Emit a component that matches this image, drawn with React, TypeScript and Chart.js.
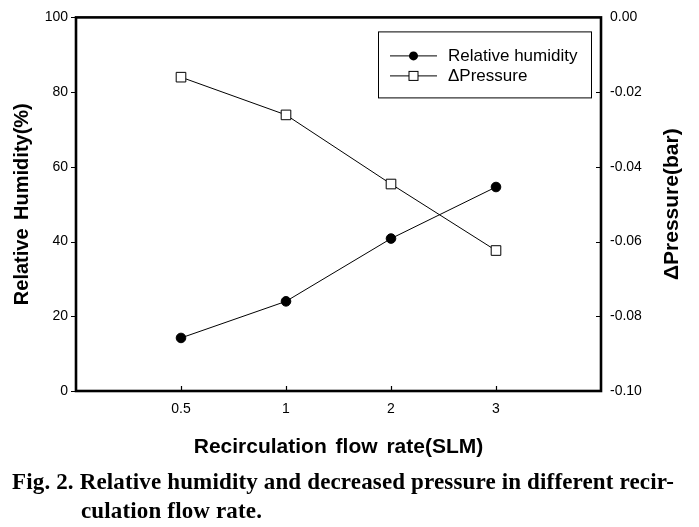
import React, { useEffect, useRef } from "react";
import { Chart, registerables } from "chart.js";

Chart.register(...registerables);

const flowRates = ["0.5", "1", "2", "3"];
const humidity = [14.2, 24.0, 40.8, 54.6];
const deltaPressure = [-0.016, -0.0261, -0.0446, -0.0624];
const humidityTicks = [0, 20, 40, 60, 80, 100];
const pressureTicks = [-0.1, -0.08, -0.06, -0.04, -0.02, 0];

const SANS = "'Liberation Sans', Arial, sans-serif";
const W = 699;
const H = 527;

const framePlugin = {
  id: "framePlugin",
  afterDatasetsDraw(chart: any) {
    const { ctx, chartArea } = chart;
    const { left, right, top, bottom } = chartArea;
    ctx.save();
    ctx.strokeStyle = "#000";
    // ticks
    ctx.lineWidth = 1.2;
    const xs = chart.scales.x;
    const yl = chart.scales.y;
    const yr = chart.scales.y2;
    ctx.beginPath();
    xs.ticks.forEach((t: any) => {
      const px = Math.round(xs.getPixelForValue(t.value)) + 0.5;
      ctx.moveTo(px, bottom);
      ctx.lineTo(px, bottom - 5);
    });
    yl.ticks.forEach((t: any) => {
      const py = Math.round(yl.getPixelForValue(t.value)) + 0.5;
      ctx.moveTo(left, py);
      ctx.lineTo(left - 5, py);
    });
    yr.ticks.forEach((t: any) => {
      const py = Math.round(yr.getPixelForValue(t.value)) + 0.5;
      ctx.moveTo(right, py);
      ctx.lineTo(right - 5, py);
    });
    ctx.stroke();
    // frame
    ctx.lineWidth = 2.6;
    ctx.strokeRect(left, top, right - left, bottom - top);

    // axis titles
    ctx.fillStyle = "#000";
    ctx.textAlign = "center";
    ctx.textBaseline = "middle";
    try {
      (ctx as any).wordSpacing = "3px";
    } catch (e) {}
    const cy = (top + bottom) / 2;
    ctx.font = `bold 20px ${SANS}`;
    ctx.save();
    ctx.translate(22, cy);
    ctx.rotate(-Math.PI / 2);
    ctx.fillText(yl.options.title.text, 0, 0);
    ctx.restore();
    ctx.font = `bold 21px ${SANS}`;
    ctx.save();
    ctx.translate(672, cy);
    ctx.rotate(-Math.PI / 2);
    ctx.fillText(yr.options.title.text, 0, 0);
    ctx.restore();
    ctx.font = `bold 21px ${SANS}`;
    ctx.fillText(xs.options.title.text, (left + right) / 2, 447);
    try {
      (ctx as any).wordSpacing = "0px";
    } catch (e) {}

    // legend
    const bw = 213;
    const bh = 66;
    const bx = right - 10 - bw;
    const by = top + 14;
    ctx.fillStyle = "#fff";
    ctx.fillRect(bx, by, bw, bh);
    ctx.lineWidth = 1;
    ctx.strokeStyle = "#000";
    ctx.strokeRect(bx + 0.5, by + 0.5, bw, bh);
    chart.data.datasets.forEach((ds: any, i: number) => {
      const ly = by + 24 + i * 20;
      const lx0 = bx + 12;
      const lx1 = bx + 59;
      const mx = (lx0 + lx1) / 2;
      ctx.beginPath();
      ctx.moveTo(lx0, ly + 0.5);
      ctx.lineTo(lx1, ly + 0.5);
      ctx.lineWidth = 1;
      ctx.stroke();
      if (ds.pointStyle === "rect") {
        ctx.fillStyle = "#fff";
        ctx.fillRect(mx - 4.5, ly - 4, 9, 9);
        ctx.strokeRect(mx - 4.5, ly - 4, 9, 9);
      } else {
        ctx.fillStyle = "#000";
        ctx.beginPath();
        ctx.arc(mx, ly + 0.5, 4.5, 0, Math.PI * 2);
        ctx.fill();
      }
      ctx.fillStyle = "#000";
      ctx.font = `17px ${SANS}`;
      ctx.textAlign = "left";
      ctx.textBaseline = "middle";
      ctx.fillText(ds.label, bx + 70, ly + 1);
    });
    ctx.restore();
  },
};

export default function App() {
  const ref = useRef<HTMLCanvasElement | null>(null);

  useEffect(() => {
    if (!ref.current) return;
    const xVals = flowRates.map((_, i) => i + 1);
    const chart = new Chart(ref.current, {
      type: "line",
      data: {
        datasets: [
          {
            label: "Relative humidity",
            data: humidity.map((v, i) => ({ x: xVals[i], y: v })),
            yAxisID: "y",
            borderColor: "#000",
            borderWidth: 1,
            pointStyle: "circle",
            pointRadius: 4.8,
            pointBackgroundColor: "#000",
            pointBorderColor: "#000",
            pointBorderWidth: 1,
            tension: 0,
          },
          {
            label: "\u0394Pressure",
            data: deltaPressure.map((v, i) => ({ x: xVals[i], y: v })),
            yAxisID: "y2",
            borderColor: "#000",
            borderWidth: 1,
            pointStyle: "rect",
            pointRadius: 6.8,
            pointBackgroundColor: "#fff",
            pointBorderColor: "#000",
            pointBorderWidth: 1,
            tension: 0,
          },
        ],
      },
      options: {
        responsive: false,
        animation: false,
        devicePixelRatio: 1,
        layout: { padding: { top: 15, left: 0, right: 0, bottom: 0 } },
        plugins: { legend: { display: false }, tooltip: { enabled: false } },
        scales: {
          x: {
            type: "linear",
            position: "bottom",
            min: 0,
            max: flowRates.length + 1,
            title: { display: false, text: "Recirculation flow rate(SLM)" },
            grid: { display: false, drawTicks: false },
            border: { display: false },
            afterBuildTicks: (s: any) => {
              s.ticks = xVals.map((v) => ({ value: v }));
            },
            afterFit: (s: any) => {
              s.height = H - 391;
            },
            ticks: {
              padding: 10,
              color: "#000",
              font: { family: SANS, size: 14 },
              maxRotation: 0,
              callback: (v: any) => flowRates[Math.round(v) - 1] ?? "",
            },
          },
          y: {
            type: "linear",
            position: "left",
            min: 0,
            max: 100,
            title: { display: false, text: "Relative Humidity(%)" },
            grid: { display: false, drawTicks: false },
            border: { display: false },
            afterBuildTicks: (s: any) => {
              s.ticks = humidityTicks.map((v) => ({ value: v }));
            },
            afterFit: (s: any) => {
              s.width = 76;
            },
            ticks: {
              padding: 8,
              color: "#000",
              font: { family: SANS, size: 14 },
              callback: (v: any) => String(v),
            },
          },
          y2: {
            type: "linear",
            position: "right",
            min: -0.1,
            max: 0,
            title: { display: false, text: "\u0394Pressure(bar)" },
            grid: { display: false, drawTicks: false },
            border: { display: false },
            afterBuildTicks: (s: any) => {
              s.ticks = pressureTicks.map((v) => ({ value: v }));
            },
            afterFit: (s: any) => {
              s.width = W - 601;
            },
            ticks: {
              padding: 9,
              color: "#000",
              font: { family: SANS, size: 14 },
              callback: (v: any) => Number(v).toFixed(2),
            },
          },
        },
      },
      plugins: [framePlugin],
    } as any);
    return () => chart.destroy();
  }, []);

  const capStyle: React.CSSProperties = {
    position: "absolute",
    fontFamily: "'Liberation Serif', 'Times New Roman', serif",
    fontWeight: "bold",
    fontSize: 23,
    letterSpacing: "0.15px",
    color: "#000",
    whiteSpace: "nowrap",
    lineHeight: "29px",
  };

  return (
    <div
      style={{
        position: "absolute",
        left: 0,
        top: 0,
        width: W,
        height: H,
        background: "#fff",
        overflow: "hidden",
      }}
    >
      <canvas ref={ref} width={W} height={H} style={{ display: "block" }} />
      <div style={{ ...capStyle, left: 12, top: 467 }}>
        Fig. 2. Relative humidity and decreased pressure in different recir-
      </div>
      <div style={{ ...capStyle, left: 81, top: 496 }}>culation flow rate.</div>
    </div>
  );
}
